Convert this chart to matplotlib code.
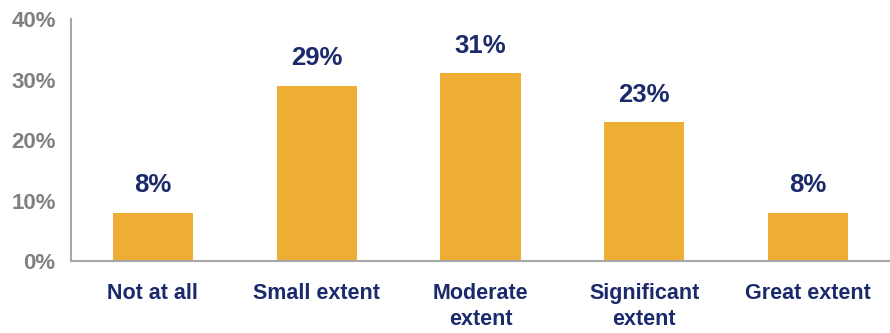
import matplotlib
matplotlib.use('Agg')
import matplotlib.pyplot as plt

categories = ['Not at all', 'Small extent', 'Moderate\nextent', 'Significant\nextent', 'Great extent']
values = [8, 29, 31, 23, 8]
yticks = [0, 10, 20, 30, 40]

plt.rcParams['font.family'] = ['Liberation Sans', 'DejaVu Sans']
plt.rcParams['font.weight'] = 'bold'

fig = plt.figure(figsize=(8.9, 3.33), dpi=100)
ax = fig.add_axes([0.0798, 0.216, 0.9202, 0.727])

x = range(len(categories))
bars = ax.bar(x, values, width=0.49, color='#EDAE33')

for b, v in zip(bars, values):
    ax.annotate(f'{v}%', (b.get_x() + b.get_width() / 2, v),
                xytext=(0, 11), textcoords='offset points',
                ha='center', va='bottom', fontsize=18.5, fontweight='bold',
                color='#1B2A6B')

ax.set_xlim(-0.5, len(categories) - 0.5)
ax.set_ylim(0, 40)
ax.set_yticks(yticks)
ax.set_yticklabels([f'{t}%' for t in yticks], fontsize=16, fontweight='bold', color='#808080')
ax.set_xticks(list(x))
ax.set_xticklabels(categories, fontsize=15.5, fontweight='bold', color='#1B2A6B', linespacing=1.3)
ax.tick_params(axis='both', length=0)
ax.tick_params(axis='x', pad=16)
ax.tick_params(axis='y', pad=11)

for side in ['top', 'right']:
    ax.spines[side].set_visible(False)
for side in ['left', 'bottom']:
    ax.spines[side].set_color('#A6A6A6')
    ax.spines[side].set_linewidth(1.5)

fig.savefig('out.png', dpi=100)
